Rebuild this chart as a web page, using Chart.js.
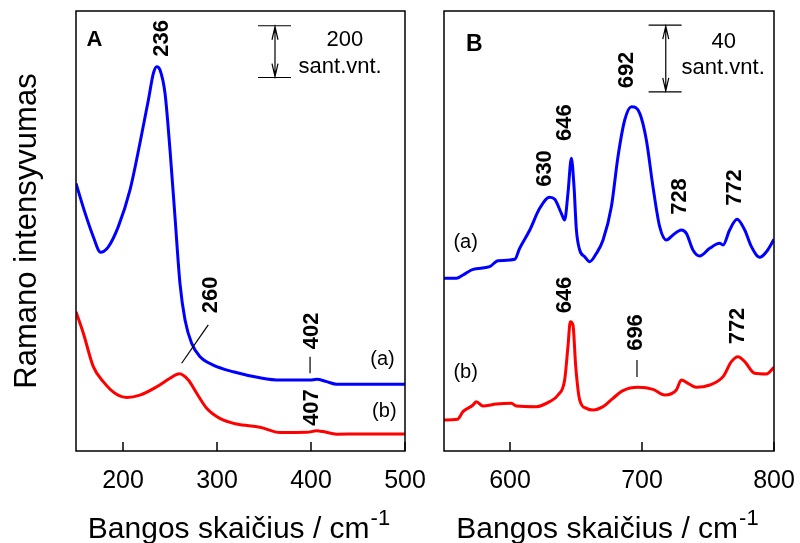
<!DOCTYPE html>
<html>
<head>
<meta charset="utf-8">
<script src="https://cdn.jsdelivr.net/npm/chart.js@4.4.1/dist/chart.umd.min.js"></script>
<style>
    html, body { margin: 0; padding: 0; background: #fff; }
    #wrap { position: relative; width: 800px; height: 543px; }
    #wrap canvas { position: absolute; left: 0; top: 0; width: 800px; height: 543px; }
</style>
</head>
<body>
<div id="wrap">
    <canvas id="panelA" width="800" height="543"></canvas>
    <canvas id="panelB" width="800" height="543"></canvas>
</div>
<script>
// --- Duomenys (A: 150-500 cm-1, B: 550-800 cm-1), intensyvumas sant. vnt.
var aTicks = [200, 300, 400, 500];
var bTicks = [600, 700, 800];

var aBlueX = [150, 159.6, 168.4, 176.2, 184.4, 195, 207.4, 218, 227, 232.3, 235.8, 239.4, 244.7, 250, 255.3,
              260.6, 266, 273, 282, 296, 317.3, 345.7, 367, 399, 406, 416.7, 427.3, 500];
var aBlueY = [1034, 920, 828, 768, 789, 867, 1008, 1189, 1356, 1459, 1485, 1472, 1382, 1163, 905,
              648, 506, 416, 364, 332, 306, 283, 274, 274, 277, 268, 258, 258];

var aRedX = [150, 157.8, 168.4, 179, 191.5, 204, 218, 235.8, 250, 260, 269.5, 278.4, 289, 303, 321,
             345.7, 367, 395.4, 406, 413, 427.3, 452, 500];
var aRedY = [538, 455, 326, 268, 223, 207, 216, 248, 281, 298, 274, 223, 165, 126, 104,
             92, 71, 72, 78, 75, 65, 66, 66];

var bBlueX = [550, 559.4, 564.4, 572, 584.6, 590.9, 603.6, 607.3, 615, 622.5, 630, 633.9, 638.9, 641.4, 643.9,
              646.5, 648.5, 650.3, 652.8, 656.6, 660.4, 665.5, 670.5, 676.8, 681.8, 686.9, 692, 698.3, 703.3,
              708.3, 713.4, 718.5, 723.5, 729.8, 733.6, 738.6, 743.7, 751.3, 758.9, 761.4, 766.4, 772, 777.8,
              782.9, 789.2, 794.3, 800];
var bBlueY = [103.6, 103.6, 105.6, 109, 110.6, 114.2, 115, 121.6, 132.6, 145.6, 152.2, 151, 142.6, 138.6, 154.6,
              175.6, 158.6, 132.6, 120.6, 116.6, 113.6, 118.6, 126.6, 146.6, 176.6, 198.6, 206.6, 202.6, 186.6,
              158.6, 134.6, 126.6, 129.6, 132.6, 130.6, 120.6, 117, 121.6, 124.6, 123.6, 132.6, 139, 132.6,
              122.6, 116.2, 119.6, 127];

var bRedX = [550, 560.1, 564.4, 572, 574.5, 579.5, 589.7, 601, 604.8, 620, 630, 636.4, 641.4, 643.9, 645.7,
             647.7, 649.8, 652.8, 657.9, 662.9, 670.5, 678, 685.6, 697, 708.3, 717.2, 726, 729.8, 734.9,
             741.2, 751.3, 761.4, 767.7, 772.7, 777.8, 785.4, 794.3, 800];
var bRedY = [18.6, 19, 23.6, 27.6, 29.6, 27, 28.2, 28.6, 27, 26.6, 29.6, 33.6, 42.6, 62.6, 77.6,
             75.6, 50.6, 30.6, 25.6, 24.6, 26.6, 31.6, 36.2, 38.2, 37, 33.6, 36.6, 42.6, 40.6,
             38.2, 39.6, 44.6, 53.6, 56.6, 53.6, 46.6, 46.2, 50.2];

// Užrašai ant grafiko (duomenų koordinatėmis)
var aNotes = [
    { t: 'A', x: 169.7, y: 1588, size: 22, bold: true },
    { t: '236', x: 241, y: 1594, size: 22, bold: true, rot: true },
    { t: '260', x: 294, y: 603, size: 22, bold: true, rot: true },
    { t: '402', x: 400.5, y: 464, size: 22, bold: true, rot: true },
    { t: '407', x: 400.5, y: 168, size: 22, bold: true, rot: true },
    { t: '(a)', x: 476, y: 352, size: 20 },
    { t: '(b)', x: 478, y: 151, size: 20 },
    { t: '200', x: 436, y: 1588, size: 22 },
    { t: 'sant.vnt.', x: 431, y: 1482, size: 22 }
];
var aLeaders = [[262.4, 339, 290.7, 487], [399, 300, 399, 364]];
var aBar = { x1: 343.6, x2: 378.7, xm: 361.7, y1: 1443, y2: 1643 };

var bNotes = [
    { t: 'B', x: 572.9, y: 244, size: 23, bold: true },
    { t: '40', x: 761.9, y: 245.4, size: 22 },
    { t: 'sant.vnt.', x: 761.5, y: 229.8, size: 22 },
    { t: '692', x: 688.8, y: 228.6, size: 22, bold: true, rot: true },
    { t: '646', x: 641.4, y: 197, size: 22, bold: true, rot: true },
    { t: '630', x: 626.3, y: 169.5, size: 22, bold: true, rot: true },
    { t: '728', x: 728.6, y: 152.7, size: 22, bold: true, rot: true },
    { t: '772', x: 770.2, y: 158.1, size: 22, bold: true, rot: true },
    { t: '(a)', x: 566.4, y: 125.4, size: 20 },
    { t: '646', x: 641.8, y: 93.6, size: 22, bold: true, rot: true },
    { t: '696', x: 695.6, y: 71.1, size: 22, bold: true, rot: true },
    { t: '772', x: 772.5, y: 75, size: 22, bold: true, rot: true },
    { t: '(b)', x: 566.4, y: 47.4, size: 20 }
];
var bLeaders = [[696.2, 44.4, 696.2, 54.6]];
var bBar = { x1: 705, x2: 730, xm: 718, y1: 215.5, y2: 255.5 };

var FONT = '"Liberation Sans", Arial, sans-serif';

function pts(xs, ys) {
    return xs.map(function (x, i) { return { x: x, y: ys[i] }; });
}

// Rėmelis, vidinės žymės, užrašai, mastelio rodyklė ir x ašies pavadinimas
var decor = {
    id: 'decor',
    afterDraw: function (chart, args, o) {
        var ctx = chart.ctx, a = chart.chartArea;
        var xs = chart.scales.x, ys = chart.scales.y;
        ctx.save();
        ctx.strokeStyle = '#000';
        ctx.fillStyle = '#000';
        ctx.lineWidth = 1.5;
        ctx.strokeRect(a.left, a.top, a.right - a.left, a.bottom - a.top);

        xs.ticks.forEach(function (t) {
            var px = xs.getPixelForValue(t.value);
            ctx.beginPath();
            ctx.moveTo(px, a.bottom);
            ctx.lineTo(px, a.bottom - 9);
            ctx.stroke();
        });

        ctx.lineWidth = 1.2;
        o.leaders.forEach(function (l) {
            ctx.beginPath();
            ctx.moveTo(xs.getPixelForValue(l[0]), ys.getPixelForValue(l[1]));
            ctx.lineTo(xs.getPixelForValue(l[2]), ys.getPixelForValue(l[3]));
            ctx.stroke();
        });

        // mastelio rodyklė
        var b = o.bar;
        var x1 = xs.getPixelForValue(b.x1), x2 = xs.getPixelForValue(b.x2), xm = xs.getPixelForValue(b.xm);
        var yT = ys.getPixelForValue(b.y2), yB = ys.getPixelForValue(b.y1);
        ctx.beginPath();
        ctx.moveTo(x1, yT); ctx.lineTo(x2, yT);
        ctx.moveTo(x1, yB); ctx.lineTo(x2, yB);
        ctx.moveTo(xm, yT + 1); ctx.lineTo(xm, yB - 1);
        ctx.moveTo(xm - 3, yT + 14); ctx.lineTo(xm, yT + 1); ctx.lineTo(xm + 3, yT + 14);
        ctx.moveTo(xm - 3, yB - 14); ctx.lineTo(xm, yB - 1); ctx.lineTo(xm + 3, yB - 14);
        ctx.stroke();

        o.notes.forEach(function (n) {
            ctx.save();
            ctx.translate(xs.getPixelForValue(n.x), ys.getPixelForValue(n.y));
            if (n.rot) ctx.rotate(-Math.PI / 2);
            ctx.font = (n.bold ? 'bold ' : '') + n.size + 'px ' + FONT;
            ctx.textAlign = 'center';
            ctx.textBaseline = 'middle';
            ctx.fillText(n.t, 0, 0);
            ctx.restore();
        });

        // x ašies pavadinimas su laipsniu
        var main = 'Bangos skaičius / cm', sup = '-1';
        ctx.font = '30px ' + FONT;
        var w1 = ctx.measureText(main).width;
        ctx.font = '22px ' + FONT;
        var w2 = ctx.measureText(sup).width;
        var sx = (a.left + a.right) / 2 - (w1 + w2) / 2 - 2;
        ctx.textAlign = 'left';
        ctx.textBaseline = 'alphabetic';
        ctx.font = '30px ' + FONT;
        ctx.fillText(main, sx, a.bottom + 87);
        ctx.font = '22px ' + FONT;
        ctx.fillText(sup, sx + w1 + 1, a.bottom + 74);
        ctx.restore();
    }
};

function makePanel(id, cfg) {
    return new Chart(document.getElementById(id), {
        type: 'line',
        data: {
            datasets: [
                { data: pts(cfg.blueX, cfg.blueY), borderColor: '#0000ff' },
                { data: pts(cfg.redX, cfg.redY), borderColor: '#ff0000' }
            ]
        },
        options: {
            responsive: false,
            animation: false,
            events: [],
            layout: { padding: { left: 0, top: 11, right: cfg.padRight, bottom: 0 } },
            elements: {
                line: { borderWidth: 3, cubicInterpolationMode: 'monotone', fill: false },
                point: { radius: 0 }
            },
            plugins: {
                legend: { display: false },
                tooltip: { enabled: false },
                decor: { notes: cfg.notes, leaders: cfg.leaders, bar: cfg.bar }
            },
            scales: {
                x: {
                    type: 'linear',
                    min: cfg.xMin,
                    max: cfg.xMax,
                    grid: { display: false, drawTicks: false },
                    border: { display: false },
                    afterBuildTicks: function (s) {
                        s.ticks = cfg.ticks.map(function (v) { return { value: v }; });
                    },
                    afterFit: function (s) {
                        s.height = 92;
                        s.paddingLeft = 0;
                        s.paddingRight = 0;
                    },
                    ticks: {
                        color: '#000',
                        padding: 15,
                        maxRotation: 0,
                        font: { family: FONT, size: 25 }
                    }
                },
                y: {
                    min: 0,
                    max: cfg.yMax,
                    grid: { display: false, drawTicks: false },
                    border: { display: false },
                    ticks: { display: false },
                    afterFit: function (s) { s.width = cfg.yWidth; },
                    title: {
                        display: cfg.yTitle,
                        text: 'Ramano intensyvumas',
                        color: '#000',
                        padding: { top: 9, bottom: 0 },
                        font: { family: FONT, size: 31 }
                    }
                }
            }
        },
        plugins: [decor]
    });
}

makePanel('panelA', {
    blueX: aBlueX, blueY: aBlueY, redX: aRedX, redY: aRedY,
    ticks: aTicks, xMin: 150, xMax: 500, yMax: 1700,
    notes: aNotes, leaders: aLeaders, bar: aBar,
    yWidth: 76, padRight: 395, yTitle: true
});

makePanel('panelB', {
    blueX: bBlueX, blueY: bBlueY, redX: bRedX, redY: bRedY,
    ticks: bTicks, xMin: 550, xMax: 800, yMax: 264,
    notes: bNotes, leaders: bLeaders, bar: bBar,
    yWidth: 444, padRight: 26, yTitle: false
});
</script>
</body>
</html>
